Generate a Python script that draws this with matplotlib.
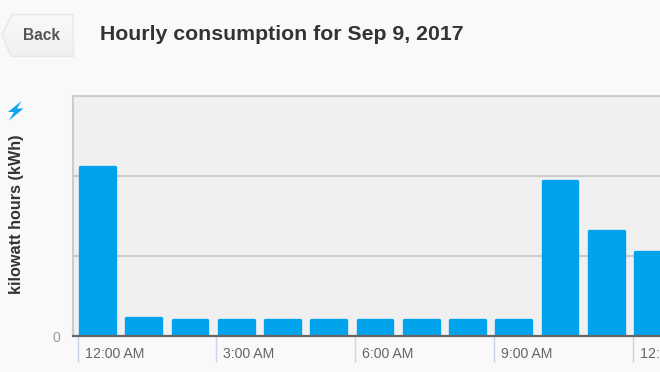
import matplotlib
matplotlib.use("Agg")
import matplotlib.pyplot as plt
from matplotlib.patches import Polygon
import numpy as np

plt.rcParams["font.family"] = ["Liberation Sans", "DejaVu Sans"]

# hours shown (the chart is cut off on the right), gridline step = 1 unit
hours = list(range(13))
kwh = [2.11, 0.22, 0.19, 0.19, 0.19, 0.19, 0.19, 0.19, 0.19, 0.19, 1.94, 1.31, 1.05]
tick_hours = [0, 3, 6, 9, 12]
tick_labels = ["12:00 AM", "3:00 AM", "6:00 AM", "9:00 AM", "12:00 PM"]
grid_values = [1, 2, 3]

W, H = 660, 372
BG = "#f9f9f9"
BLUE = "#00a3ec"

fig = plt.figure(figsize=(W / 100, H / 100), dpi=100, facecolor=BG)

# ---- MAIN CHART ----
ax = fig.add_axes([73 / W, 1 - 335.5 / H, (W - 73) / W, (335.5 - 96) / H], facecolor="#f0f0f0")
ax.bar(hours, kwh, width=0.75, color=BLUE, edgecolor=BLUE, linewidth=2.4, joinstyle="round", zorder=3)
ax.set_xlim(-0.53, 12.16)
ax.set_ylim(0, 3)

ax.set_yticks(grid_values)
ax.set_yticklabels([])
ax.tick_params(axis="y", length=0)
ax.grid(axis="y", color="#cccccc", linewidth=1.5, zorder=1)
ax.set_axisbelow(True)

ax.spines["right"].set_visible(False)
for side in ["top", "left"]:
    ax.spines[side].set_color("#cccccc")
    ax.spines[side].set_linewidth(1.5)
ax.spines["bottom"].set_color("#666666")
ax.spines["bottom"].set_linewidth(1.6)
ax.spines["bottom"].set_zorder(5)

ax.set_xticks([h - 0.43 for h in tick_hours])
ax.set_xticklabels([])
ax.tick_params(axis="x", length=18.5, width=1.0, color="#c9d6e6", direction="out")

for h, lab in zip(tick_hours, tick_labels):
    ax.annotate(lab, xy=(h - 0.43, 0), xycoords="data", xytext=(5, -13.5), textcoords="offset points",
                fontsize=10.2, color="#666666", ha="left", va="center", annotation_clip=False)

ax.annotate("0", xy=(0, 0), xycoords="axes fraction", xytext=(-9, -1.5), textcoords="offset points",
            fontsize=10.2, color="#999999", ha="right", va="center")

# ---- PAGE TEXT ----
fig.text(100 / W, 1 - 34.5 / H, "Hourly consumption for Sep 9, 2017", fontsize=15.35, fontweight="bold",
         color="#333333", ha="left", va="center")
fig.text(16.5 / W, 1 - 214.5 / H, "kilowatt hours (kWh)", fontsize=11.7, fontweight="bold", color="#333333",
         rotation=90, ha="center", va="center")

# ---- OVERLAY: BACK BUTTON AND BOLT ----
overlay = fig.add_axes([0, 0, 1, 1], facecolor="none")
overlay.axis("off")
button = Polygon([(2, 35), (12, 14.5), (73, 14.5), (73.5, 56.5), (11, 56.5)], closed=True,
                 facecolor="none", edgecolor="#e6e6e6", linewidth=0.9, zorder=3)
overlay.add_patch(button)
grad = np.linspace(0, 1, 64).reshape(-1, 1)
img = overlay.imshow(grad, extent=(2, 74, 57, 14), cmap=matplotlib.colors.LinearSegmentedColormap.from_list(
    "btn", ["#f9f9f9", "#f0f0f0"]), aspect="auto", zorder=2)
img.set_clip_path(button)
overlay.set_xlim(0, W)
overlay.set_ylim(H, 0)
overlay.text(41.5, 35.5, "Back", fontsize=11.2, fontweight="bold", color="#555555", ha="center", va="center", zorder=4)
overlay.add_patch(Polygon([(21.5, 101), (8, 112), (14, 112), (9, 120.5), (23.5, 108.5), (17, 108.5)],
                          closed=True, facecolor="#12a5ee", edgecolor="none"))

fig.savefig("out.png", dpi=100, facecolor=BG)
